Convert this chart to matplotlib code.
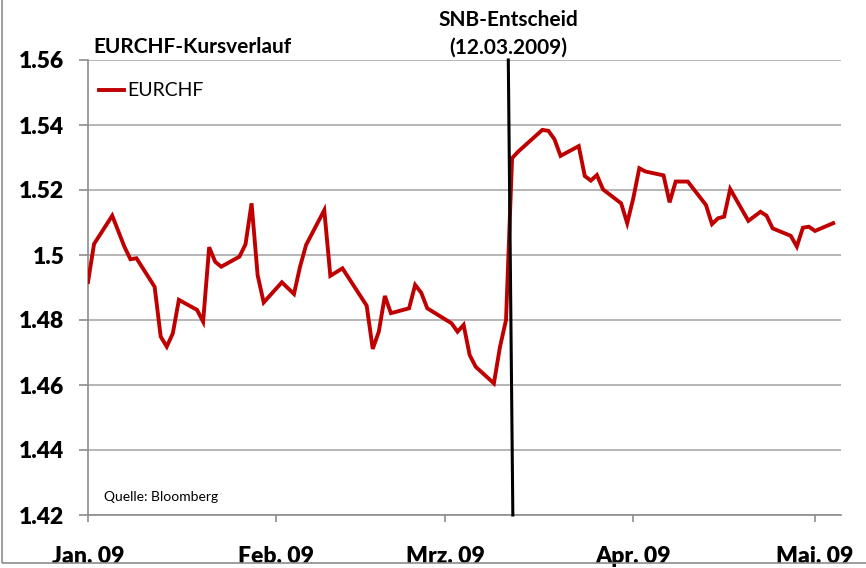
import matplotlib
matplotlib.use("Agg")
import matplotlib.pyplot as plt
from matplotlib.patches import Rectangle
from matplotlib.lines import Line2D
import pandas as pd

# ---- data ----
dates = [
    "2009-01-01", "2009-01-02", "2009-01-05", "2009-01-07", "2009-01-08", "2009-01-09",
    "2009-01-12", "2009-01-13", "2009-01-14", "2009-01-15", "2009-01-16",
    "2009-01-19", "2009-01-20", "2009-01-21", "2009-01-22", "2009-01-23",
    "2009-01-26", "2009-01-27", "2009-01-28", "2009-01-29", "2009-01-30",
    "2009-02-02", "2009-02-04", "2009-02-05", "2009-02-06",
    "2009-02-09", "2009-02-10", "2009-02-12",
    "2009-02-16", "2009-02-17", "2009-02-18", "2009-02-19", "2009-02-20",
    "2009-02-23", "2009-02-24", "2009-02-25", "2009-02-26",
    "2009-03-02", "2009-03-03", "2009-03-04", "2009-03-05", "2009-03-06",
    "2009-03-09", "2009-03-10", "2009-03-11", "2009-03-12", "2009-03-13",
    "2009-03-17", "2009-03-18", "2009-03-19", "2009-03-20",
    "2009-03-23", "2009-03-24", "2009-03-25", "2009-03-26", "2009-03-27",
    "2009-03-30", "2009-03-31", "2009-04-01", "2009-04-02", "2009-04-03",
    "2009-04-06", "2009-04-07", "2009-04-08", "2009-04-10",
    "2009-04-13", "2009-04-14", "2009-04-15", "2009-04-16", "2009-04-17",
    "2009-04-20", "2009-04-22", "2009-04-23", "2009-04-24",
    "2009-04-27", "2009-04-28", "2009-04-29", "2009-04-30", "2009-05-01",
    "2009-05-04",
]
eurchf = [
    1.4917, 1.5034, 1.5121, 1.5026, 1.4987, 1.4990,
    1.4902, 1.4749, 1.4718, 1.4759, 1.4862,
    1.4831, 1.4795, 1.5024, 1.4979, 1.4964,
    1.4995, 1.5033, 1.5159, 1.4938, 1.4854,
    1.4916, 1.4880, 1.4964, 1.5031,
    1.5138, 1.4936, 1.4959,
    1.4844, 1.4711, 1.4764, 1.4874, 1.4821,
    1.4836, 1.4908, 1.4884, 1.4836,
    1.4790, 1.4764, 1.4785, 1.4692, 1.4656,
    1.4605, 1.4717, 1.4800, 1.5298, 1.5318,
    1.5385, 1.5382, 1.5356, 1.5305,
    1.5335, 1.5243, 1.5229, 1.5246, 1.5202,
    1.5159, 1.5098, 1.5174, 1.5267, 1.5257,
    1.5245, 1.5162, 1.5226, 1.5226,
    1.5154, 1.5095, 1.5113, 1.5118, 1.5203,
    1.5105, 1.5133, 1.5121, 1.5082,
    1.5059, 1.5026, 1.5084, 1.5087, 1.5074,
    1.5098,
]
series_name = "EURCHF"
y_ticks = [1.42, 1.44, 1.46, 1.48, 1.50, 1.52, 1.54, 1.56]
y_tick_labels = ["1.42", "1.44", "1.46", "1.48", "1.5", "1.52", "1.54", "1.56"]
x_tick_dates = ["2009-01-01", "2009-02-01", "2009-03-01", "2009-04-01", "2009-05-01"]
x_tick_labels = ["Jan. 09", "Feb. 09", "Mrz. 09", "Apr. 09", "Mai. 09"]
event_dates = ["2009-03-11 09:00", "2009-03-12 03:00"]  # SNB decision marker (top, bottom)
title = "EURCHF-Kursverlauf"
event_line1 = "SNB-Entscheid"
event_line2 = "(12.03.2009)"
source = "Quelle: Bloomberg"

# ---- figure ----
W, H = 866, 568
fig = plt.figure(figsize=(W / 100, H / 100), dpi=100)
plt.rcParams['font.family'] = ['Lato', 'DejaVu Sans']

def fx(px):
    return px / W

def fy(py):
    return 1 - py / H

left, right, top, bottom = 88, 841, 60, 515
ax = fig.add_axes([fx(left), fy(bottom), fx(right) - fx(left), fy(top) - fy(bottom)])

x = pd.to_datetime(dates)
red = "#C00000"
ax.plot(x, eurchf, color=red, lw=2.8, solid_joinstyle="miter", zorder=3)

ev = pd.to_datetime(event_dates)
ax.plot([ev[0], ev[1]], [1.56, 1.42], color="black", lw=2.2, zorder=4, clip_on=False)

ax.set_ylim(1.42, 1.56)
ax.set_xlim(pd.Timestamp("2009-01-01"), pd.Timestamp("2009-05-05 07:00"))

ax.set_yticks(y_ticks)
ax.set_yticklabels(y_tick_labels)
ax.set_xticks(pd.to_datetime(x_tick_dates))
ax.set_xticklabels(x_tick_labels)

for s in ["top", "right"]:
    ax.spines[s].set_visible(False)
for s in ["left", "bottom"]:
    ax.spines[s].set_color("#8c8c8c")
    ax.spines[s].set_linewidth(1.2)

ax.grid(axis="y", color="#b0b0b0", lw=1.3, zorder=0)
ax.set_axisbelow(True)

ax.tick_params(axis="y", length=6.5, width=1.2, color="#8c8c8c", pad=10.5,
               labelsize=16.5, labelcolor="black")
ax.tick_params(axis="x", length=5, width=1.2, color="#8c8c8c", pad=17,
               labelsize=16.5, labelcolor="black")
for lab in ax.get_yticklabels() + ax.get_xticklabels():
    lab.set_fontweight("heavy")

# legend
handle = Line2D([], [], color=red, lw=2.8)
ax.legend([handle], [series_name], loc="center left",
          bbox_to_anchor=(fx(99), fy(91)), bbox_transform=fig.transFigure,
          frameon=False, fontsize=14, handlelength=1.3, handletextpad=0.15,
          borderpad=0, borderaxespad=0)

# texts
fig.text(fx(93), fy(53), title, fontsize=15, fontweight="bold", ha="left", va="baseline")
fig.text(fx(508.5), fy(26), event_line1, fontsize=15, fontweight="bold",
         ha="center", va="baseline")
fig.text(fx(508.5), fy(54), event_line2, fontsize=15, fontweight="bold",
         ha="center", va="baseline")
fig.text(fx(104), fy(501), source, fontsize=10, ha="left", va="baseline")

# outer chart border
fig.patches.append(Rectangle((fx(2), fy(563)), 2, 2, transform=fig.transFigure,
                             fill=False, edgecolor="#8c8c8c", lw=1.2))

fig.savefig("out.png", dpi=100)
